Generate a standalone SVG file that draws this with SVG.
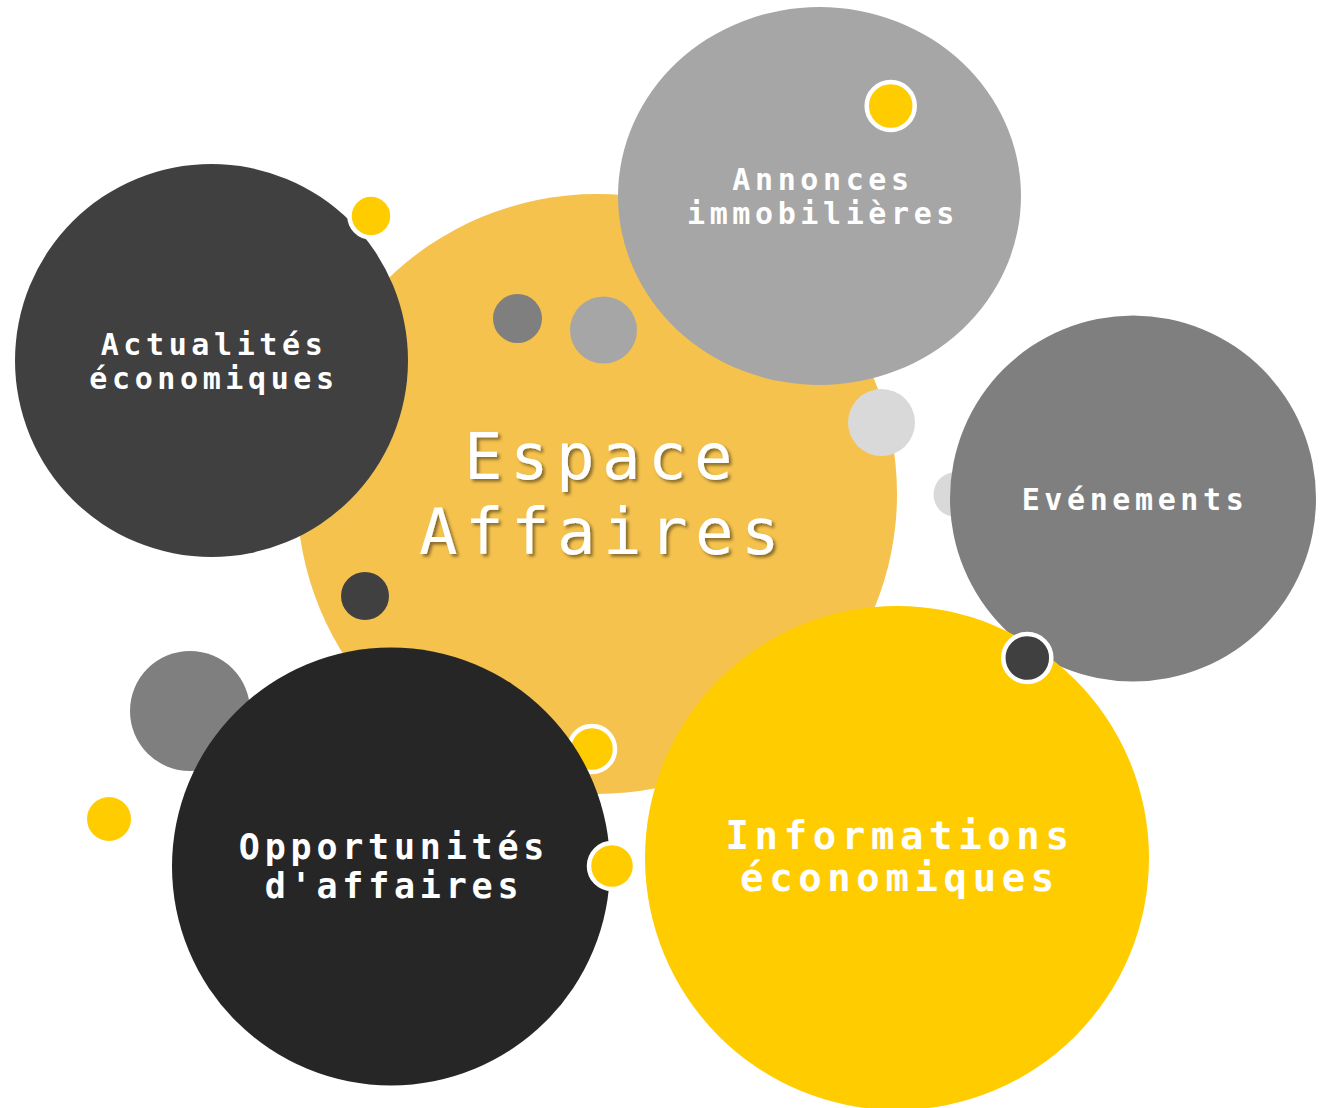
<svg xmlns="http://www.w3.org/2000/svg" width="1324" height="1108" viewBox="0 0 1324 1108">
  <defs>
    <filter id="shadow" x="-10%" y="-10%" width="130%" height="140%">
      <feDropShadow dx="2.5" dy="2.5" stdDeviation="1.5" flood-color="#000" flood-opacity="0.45"/>
    </filter>
  </defs>
  <style>
    .t { font-family: "DejaVu Sans Mono", "Liberation Mono", monospace; fill: #ffffff; text-anchor: middle; }
    .s { font-size: 30px; font-weight: bold; letter-spacing: 4.6px; }
    .m { font-size: 35px; font-weight: bold; letter-spacing: 4.8px; }
    .l { font-size: 39px; font-weight: bold; letter-spacing: 5.6px; }
    .xl { font-size: 64px; letter-spacing: 7.5px; }
    .ring { stroke: #ffffff; stroke-width: 4.5; }
  </style>
  <rect width="1324" height="1108" fill="#ffffff"/>

  <g id="decor-back">
    <circle cx="190" cy="711" r="60" fill="#7F7F7F"/>
  </g>

  <g id="espace-affaires">
    <circle cx="597" cy="494" r="300" fill="#F4C24D"/>
    <circle cx="517.5" cy="318.5" r="24.5" fill="#7F7F7F"/>
    <circle cx="603.5" cy="330" r="33.5" fill="#A6A6A6"/>
    <circle cx="365" cy="596" r="24" fill="#404040"/>
    <circle class="ring" cx="592" cy="749" r="23" fill="#FFCC00"/>
    <g filter="url(#shadow)">
      <text class="t xl" x="602" y="479">Espace</text>
      <text class="t xl" x="603" y="554">Affaires</text>
    </g>
  </g>

  <g id="annonces">
    <ellipse cx="819.5" cy="196" rx="201.5" ry="189" fill="#A6A6A6"/>
    <circle class="ring" cx="890.7" cy="106" r="24" fill="#FFCC00"/>
    <text class="t s" x="823" y="190">Annonces</text>
    <text class="t s" x="823" y="224">immobilières</text>
  </g>

  <g id="evenements">
    <circle cx="881.5" cy="422.5" r="33.5" fill="#D9D9D9"/>
    <circle cx="956" cy="494.5" r="22.5" fill="#D9D9D9"/>
    <circle cx="1133" cy="498.5" r="183" fill="#7F7F7F"/>
    <text class="t s" x="1135" y="510">Evénements</text>
  </g>

  <g id="actualites">
    <circle cx="211.5" cy="360.5" r="196.5" fill="#404040"/>
    <circle class="ring" cx="371" cy="216" r="21.5" fill="#FFCC00"/>
    <text class="t s" x="214" y="355">Actualités</text>
    <text class="t s" x="214" y="389">économiques</text>
  </g>

  <g id="opportunites">
    <circle cx="391" cy="866.5" r="219" fill="#262626"/>
    <circle class="ring" cx="612" cy="866" r="23" fill="#FFCC00"/>
    <text class="t m" x="394" y="859">Opportunités</text>
    <text class="t m" x="394" y="898">d'affaires</text>
  </g>

  <g id="informations">
    <circle cx="897" cy="858" r="252" fill="#FFCC00"/>
    <circle class="ring" cx="1027.3" cy="658" r="24" fill="#404040"/>
    <text class="t l" x="900" y="849">Informations</text>
    <text class="t l" x="900" y="891">économiques</text>
  </g>

  <g id="decor-front">
    <circle cx="109" cy="819" r="22" fill="#FFCC00"/>
  </g>

  <g id="connectors"></g>
</svg>
